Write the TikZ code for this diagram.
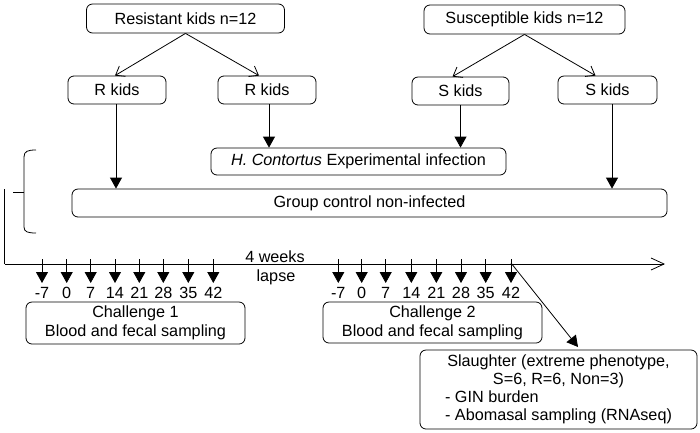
\documentclass[tikz,border=0pt]{standalone}
\usepackage{fontspec}
\setmainfont{Liberation Sans}
\usetikzlibrary{arrows.meta}
\begin{document}
\begin{tikzpicture}[x=1pt,y=-1pt,
  txt/.style={font=\fontsize{16.2}{19}\selectfont},
  box/.style={draw, rounded corners=6pt, line width=0.8pt, inner sep=0pt, align=center, txt},
  conn/.style={line width=0.8pt},
  tri/.style={conn, -{Triangle[length=11pt,width=12pt]}},
  vee/.style={conn, -{Straight Barb[length=8pt,width=12pt]}},
  lbl/.style={inner sep=0pt, txt}]
\useasboundingbox (0,0) rectangle (700,432);

% top boxes
\node[box, minimum width=198pt, minimum height=29pt] (res) at (185.5,18.5) {Resistant kids n=12};
\node[box, minimum width=201pt, minimum height=29pt] (sus) at (524.5,19.5) {Susceptible kids n=12};
\node[box, minimum width=98pt, minimum height=28pt] (rk1) at (117,90) {R kids};
\node[box, minimum width=98pt, minimum height=28pt] (rk2) at (267,90) {R kids};
\node[box, minimum width=97pt, minimum height=28pt] (sk1) at (460.5,91) {S kids};
\node[box, minimum width=99pt, minimum height=28pt] (sk2) at (607.5,90) {S kids};
\node[box, minimum width=295pt, minimum height=27pt] (hc) at (358.5,161.5) {\textit{H. Contortus} Experimental infection};
\node[box, minimum width=595pt, minimum height=28pt] (grp) at (369.5,203) {Group control non-infected};

% splits
\draw[vee] (res.south) -- ([xshift=-2pt]rk1.north);
\draw[vee] (res.south) -- ([xshift=-8pt]rk2.north);
\draw[vee] (sus.south) -- ([xshift=-8pt]sk1.north);
\draw[vee] (sus.south) -- ([xshift=-12pt]sk2.north);

% vertical arrows
\draw[tri] ([xshift=-1pt]rk1.south) -- ([xshift=-1pt]rk1.south |- grp.north);
\draw[tri] ([xshift=2pt]rk2.south) -- ([xshift=2pt]rk2.south |- hc.north);
\draw[tri] (sk1.south) -- (sk1.south |- hc.north);
\draw[tri] ([xshift=4.5pt]sk2.south) -- ([xshift=4.5pt]sk2.south |- grp.north);

% brace
\draw[conn] (36,150) .. controls (28,150) and (24,151) .. (24,157) -- (24,227) .. controls (24,232) and (28,233) .. (36,233);
\draw[conn] (13,192) -- (24,192);

% axis
\coordinate (vt) at (4.5,189);
\coordinate (o) at (4.5,264);
\coordinate (e) at (665,264);
\draw[conn] (vt) -- (o);
\draw[conn, -{Straight Barb[length=13pt,width=12pt]}] (o) -- (e);

\node[lbl] (wk) at (275,257) {4 weeks};
\node[lbl] (lp) at (276,277) {lapse};

% ticks
\foreach \x/\t [count=\i] in {42/-7,66.7/0,90.7/7,115/14,139.3/21,163.3/28,188.3/35,213.3/42,
  338.3/-7,361.7/0,385.7/7,411.3/14,436.3/21,461/28,485.7/35,511/42}{
  \coordinate (a\i) at (\x,259);
  \coordinate (b\i) at (\x,283);
  \draw[tri] (a\i) -- (b\i);
  \node[lbl] (l\i) at (\x,293) {\t};
}

% challenge boxes
\node[box, minimum width=219pt, minimum height=42pt] (ch1) at (135.5,323) {Challenge 1\\Blood and fecal sampling};
\node[box, minimum width=219pt, minimum height=41pt] (ch2) at (432.5,322.5) {Challenge 2\\Blood and fecal sampling};

% slaughter
\node[box, minimum width=277pt, minimum height=79pt] (sl) at (558.5,389.5) {%
\renewcommand{\arraystretch}{0.95}%
\begin{tabular}{@{}l@{}}
\multicolumn{1}{@{}c@{}}{Slaughter (extreme phenotype,}\\
\multicolumn{1}{@{}c@{}}{S=6, R=6, Non=3)}\\
- GIN burden\\
- Abomasal sampling (RNAseq)
\end{tabular}};

\coordinate (dg) at (511,263);
\coordinate (dtip) at (578,347);
\draw[tri] (dg) -- (dtip);
\end{tikzpicture}
\end{document}
